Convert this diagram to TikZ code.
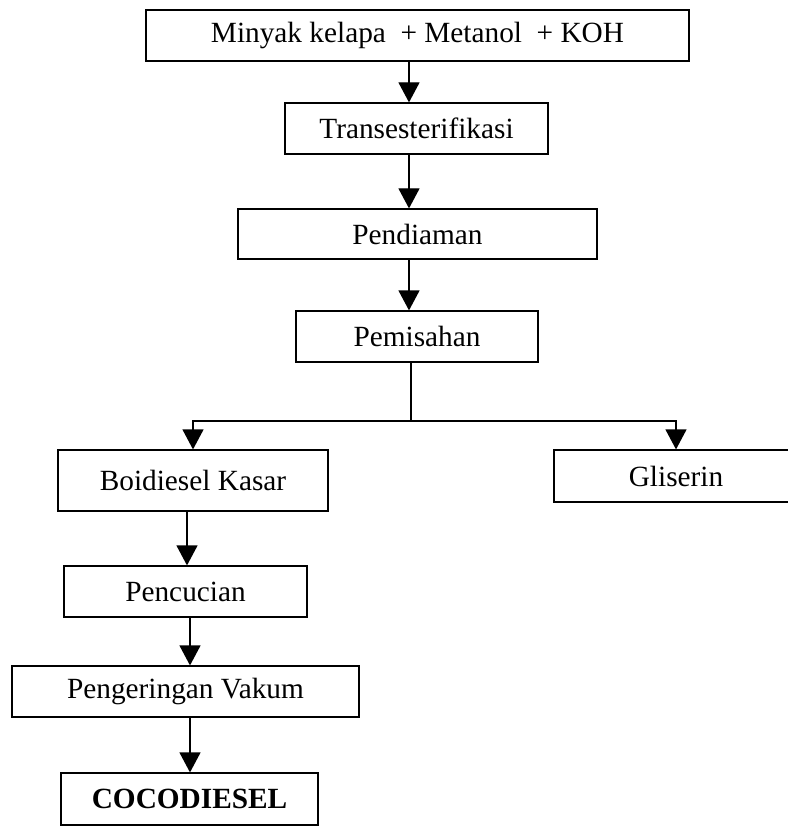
\documentclass[tikz,border=0pt]{standalone}
\usepackage{fontspec}
\setmainfont{Liberation Serif}
\usetikzlibrary{arrows.meta}

\tikzset{
  stage/.style={draw, line width=1.2pt, inner sep=0pt, minimum height=51pt,
    font=\fontsize{29.3}{35}\selectfont},
  flow/.style={line width=1.2pt, -{Triangle[length=20pt,width=21pt]}},
}

\begin{document}
\begin{tikzpicture}[x=1pt,y=-1pt]
	\useasboundingbox (0,0) rectangle (787,826);

	% the boxes down the middle
	\node[stage, line width=2pt, minimum width=543pt] (minyak) at (417.5,35.5) {Minyak kelapa \ + Metanol \ + KOH};
	\node[stage, minimum width=263pt] (trans) at (416.5,128.5) {Transesterifikasi};
	\node[stage, minimum width=359pt, minimum height=50pt] (diam) at (417.5,234) {Pendiaman};
	\node[stage, minimum width=242pt] (pisah) at (417,336.5) {Pemisahan};

	% the two products
	\node[stage, minimum width=270pt, minimum height=61pt] (kasar) at (193,480.5) {Boidiesel Kasar};
	\node[stage, minimum width=244pt, minimum height=52pt] (gliserin) at (676,476) {Gliserin};

	% the boxes down the left side
	\node[stage, minimum width=243pt] (cuci) at (185.5,591.5) {Pencucian};
	\node[stage, minimum width=347pt] (kering) at (185.5,691.5) {Pengeringan Vakum};
	\node[stage, minimum width=257pt, minimum height=52pt] (coco) at (189.5,799) {\bfseries COCODIESEL};

	% arrows between the stages
	\draw[flow] ([xshift=-8.5pt]minyak.south) -- ([xshift=-8.5pt]minyak.south |- trans.north);
	\draw[flow] ([xshift=-7.5pt]trans.south) -- ([xshift=-7.5pt]trans.south |- diam.north);
	\draw[flow] ([xshift=-8.5pt]diam.south) -- ([xshift=-8.5pt]diam.south |- pisah.north);

	% split after Pemisahan
	\coordinate (split) at (411,421);
	\draw[line width=1.2pt] (split |- pisah.south) -- (split);
	\draw[flow] (split) -| (kasar.north);
	\draw[flow] (split) -| (gliserin.north);

	\draw[flow] ([xshift=-6pt]kasar.south) -- ([xshift=-6pt]kasar.south |- cuci.north);
	\draw[flow] ([xshift=4.5pt]cuci.south) -- ([xshift=4.5pt]cuci.south |- kering.north);
	\draw[flow] ([xshift=4.5pt]kering.south) -- ([xshift=4.5pt]kering.south |- coco.north);
\end{tikzpicture}
\end{document}
